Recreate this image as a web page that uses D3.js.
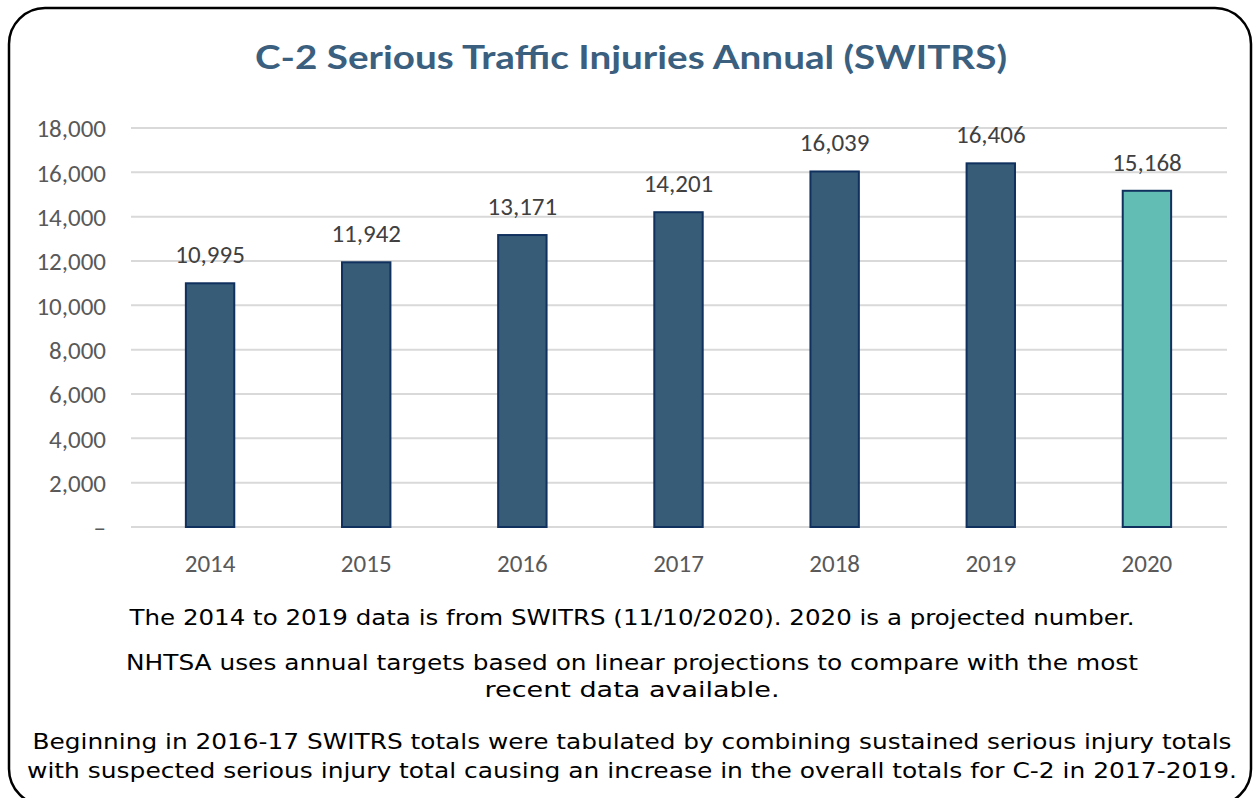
<!DOCTYPE html>
<html><head><meta charset="utf-8">
<script src="https://cdn.jsdelivr.net/npm/d3@7"></script>
<style>body{margin:0;background:#fff}</style>
</head><body>
<script>
const years = ["2014","2015","2016","2017","2018","2019","2020"];
const values = [10995,11942,13171,14201,16039,16406,15168];
const projected = [false,false,false,false,false,false,true];
const yTicks = [0,2000,4000,6000,8000,10000,12000,14000,16000,18000];
const title = "C-2 Serious Traffic Injuries Annual (SWITRS)";
const notes = [
  {t:"The 2014 to 2019 data is from SWITRS (11/10/2020). 2020 is a projected number.", y:625, w:1005},
  {t:"NHTSA uses annual targets based on linear projections to compare with the most", y:670, w:1012},
  {t:"recent data available.", y:697, w:295},
  {t:"Beginning in 2016-17 SWITRS totals were tabulated by combining sustained serious injury totals", y:749, w:1199},
  {t:"with suspected serious injury total causing an increase in the overall totals for C-2 in 2017-2019.", y:778, w:1210}
];
const W=1253,H=798;
const svg=d3.select("body").append("svg").attr("width",W).attr("height",H);
svg.append("rect").attr("x",9).attr("y",8).attr("width",1242).attr("height",797).attr("rx",36)
  .attr("fill","#fff").attr("stroke","#000").attr("stroke-width",2.5);
const x=d3.scaleBand().domain(years).range([132,1225]).paddingInner(0.69).paddingOuter(0.345);
const y=d3.scaleLinear().domain([0,18000]).range([527,128]);
const g=svg.append("g");
g.selectAll("line.grid").data(yTicks).join("line").attr("x1",131).attr("x2",1227)
  .attr("y1",d=>y(d)).attr("y2",d=>y(d)).attr("stroke","#d9d9d9").attr("stroke-width",2);
const lblFont="Carlito, Calibri, 'Open Sans', sans-serif";
const yAxis=d3.axisLeft(y).tickValues(yTicks).tickSize(0).tickPadding(0)
  .tickFormat(d=>d===0?"–":d3.format(",")(d));
const ya=svg.append("g").attr("transform","translate(106,0)").call(yAxis);
ya.select(".domain").remove();
ya.selectAll("text").attr("font-family",lblFont).attr("font-size",25).attr("fill","#595959").attr("dy","0.35em");
g.selectAll("rect.bar").data(values).join("rect")
  .attr("x",(d,i)=>x(years[i])).attr("width",x.bandwidth())
  .attr("y",d=>y(d)).attr("height",d=>y(0)-y(d))
  .attr("fill",(d,i)=>projected[i]?"#62bdb5":"#375c78")
  .attr("stroke","#10305e").attr("stroke-width",2);
g.selectAll("text.lbl").data(values).join("text")
  .attr("x",(d,i)=>x(years[i])+x.bandwidth()/2).attr("y",d=>y(d)-20)
  .attr("text-anchor","middle").attr("font-family",lblFont)
  .attr("font-size",25).attr("fill","#404040").text(d=>d3.format(",")(d));
const xAxis=d3.axisBottom(x).tickSize(0).tickPadding(0);
const xa=svg.append("g").attr("transform","translate(0,563)").call(xAxis);
xa.select(".domain").remove();
xa.selectAll("text").attr("font-family",lblFont).attr("font-size",25).attr("fill","#595959").attr("dy","0.35em");
svg.append("text").attr("x",631).attr("y",69).attr("text-anchor","middle")
  .attr("font-family","'URW Gothic', 'Century Gothic', Lato, sans-serif").attr("font-weight","bold")
  .attr("font-size",32).attr("fill","#3b5f7e").attr("textLength",752).attr("lengthAdjust","spacingAndGlyphs").text(title);
svg.selectAll("text.note").data(notes).join("text").attr("x",632).attr("y",d=>d.y)
  .attr("text-anchor","middle").attr("font-family","'URW Gothic', 'Century Gothic', 'DejaVu Sans', sans-serif")
  .attr("font-size",22).attr("fill","#000").attr("textLength",d=>d.w).attr("lengthAdjust","spacingAndGlyphs").text(d=>d.t);
</script>
</body></html>
